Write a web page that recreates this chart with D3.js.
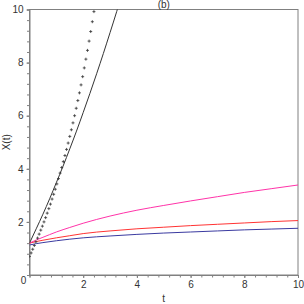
<!DOCTYPE html>
<html><head><meta charset="utf-8">
<script src="https://cdn.jsdelivr.net/npm/d3@7"></script>
<style>body{margin:0;background:#fff}svg{display:block}</style>
</head><body>
<script>
// ---- data ----
const title = "(b)";
const xLabel = "t";
const yLabel = "X(t)";
const xMajorTicks = [2, 4, 6, 8, 10];
const yMajorTicks = [2, 4, 6, 8, 10];
const minorStep = 0.4;

// point-plot series (crosses)
const dotT = [0,0.06,0.12,0.18,0.24,0.30,0.36,0.42,0.48,0.54,0.60,0.66,0.72,0.78,0.84,0.90,0.96,1.02,1.08,1.14,1.20,1.26,1.32,1.38,1.44,1.50,1.56,1.62,1.68,1.74,1.80,1.86,1.92,1.98,2.04,2.10,2.16,2.22,2.28,2.34,2.40];
const dotX = [0.70,0.83,0.97,1.11,1.25,1.39,1.54,1.69,1.84,2.00,2.16,2.33,2.50,2.67,2.86,3.04,3.23,3.43,3.63,3.84,4.05,4.27,4.50,4.73,4.97,5.22,5.47,5.73,6.00,6.28,6.57,6.86,7.16,7.47,7.80,8.13,8.46,8.81,9.17,9.54,9.92];

// black solid curve
const blackT = [0,0.25,0.5,0.75,1,1.25,1.5,1.75,2,2.25,2.5,2.75,3,3.25,3.5];
const blackX = [1.20,1.74,2.29,2.87,3.48,4.10,4.75,5.42,6.12,6.84,7.58,8.34,9.13,9.93,10.77];

// lower curves
const curveT = [0,0.25,0.5,1,1.5,2,3,4,5,6,7,8,9,10];
const magentaX = [1.20,1.32,1.42,1.62,1.79,1.95,2.22,2.44,2.62,2.79,2.95,3.11,3.25,3.39];
const redX     = [1.20,1.26,1.31,1.40,1.48,1.56,1.66,1.74,1.80,1.86,1.91,1.96,2.01,2.05];
const blueX    = [1.13,1.18,1.22,1.29,1.35,1.40,1.47,1.53,1.58,1.62,1.66,1.70,1.73,1.76];

// ---- drawing ----
const W = 304, H = 304;
const L = 29.5, R = 298, T = 9.5, B = 275;
const svg = d3.select("body").append("svg").attr("width", W).attr("height", H);
const x = d3.scaleLinear().domain([0, 10]).range([L, R]);
const y = d3.scaleLinear().domain([0, 10]).range([B, T]);
const axisColor = "#808080";
const textColor = "#333";
const font = "Liberation Sans, Arial, sans-serif";

svg.append("defs").append("clipPath").attr("id", "clip")
  .append("rect").attr("x", L).attr("y", T).attr("width", R - L).attr("height", B - T);

// frame
svg.append("rect").attr("x", L).attr("y", T).attr("width", R - L).attr("height", B - T)
  .attr("fill", "none").attr("stroke", axisColor).attr("stroke-width", 1);

const minor = d3.range(0, 10 + 1e-9, minorStep);
// x axis
const xAxis = svg.append("g").attr("transform", `translate(0,${B})`)
  .call(d3.axisBottom(x).tickValues(minor).tickSize(2.5).tickFormat(""));
xAxis.select(".domain").attr("stroke", axisColor);
xAxis.selectAll(".tick line").attr("stroke", axisColor);
const xAxisMaj = svg.append("g").attr("transform", `translate(0,${B})`)
  .call(d3.axisBottom(x).tickValues(xMajorTicks).tickSize(3).tickPadding(3).tickFormat(d3.format("d")));
xAxisMaj.select(".domain").remove();
xAxisMaj.selectAll(".tick line").attr("stroke", axisColor);
xAxisMaj.selectAll("text").attr("font-family", font).attr("font-size", 10).attr("fill", textColor);

// y axis
const yAxis = svg.append("g").attr("transform", `translate(${L},0)`)
  .call(d3.axisLeft(y).tickValues(minor).tickSize(2.5).tickFormat(""));
yAxis.select(".domain").attr("stroke", axisColor);
yAxis.selectAll(".tick line").attr("stroke", axisColor);
const yAxisMaj = svg.append("g").attr("transform", `translate(${L},0)`)
  .call(d3.axisLeft(y).tickValues(yMajorTicks).tickSize(3).tickPadding(3).tickFormat(d3.format("d")));
yAxisMaj.select(".domain").remove();
yAxisMaj.selectAll(".tick line").attr("stroke", axisColor);
yAxisMaj.selectAll("text").attr("font-family", font).attr("font-size", 10).attr("fill", textColor);

// corner zero
svg.append("text").attr("x", x(0) - 6).attr("y", y(0) + 9).attr("text-anchor", "middle")
  .attr("font-family", font).attr("font-size", 10).attr("fill", textColor).text("0");

// titles
svg.append("text").attr("x", (L + R) / 2).attr("y", 7.5).attr("text-anchor", "middle")
  .attr("font-family", font).attr("font-size", 10).attr("fill", textColor).text(title);
svg.append("text").attr("x", (L + R) / 2).attr("y", 302).attr("text-anchor", "middle")
  .attr("font-family", font).attr("font-size", 10).attr("fill", textColor).text(xLabel);
svg.append("text").attr("transform", `translate(9.5,${(T + B) / 2}) rotate(-90)`).attr("text-anchor", "middle")
  .attr("font-family", font).attr("font-size", 10).attr("fill", textColor).text(yLabel);

// curves
const g = svg.append("g").attr("clip-path", "url(#clip)");
const line = d3.line().x(d => x(d[0])).y(d => y(d[1])).curve(d3.curveMonotoneX);
const zip = (a, b) => a.map((v, i) => [v, b[i]]);
g.append("path").attr("d", line(zip(curveT, blueX))).attr("fill", "none").attr("stroke", "#3a3aa0").attr("stroke-width", 1);
g.append("path").attr("d", line(zip(curveT, redX))).attr("fill", "none").attr("stroke", "#ff3333").attr("stroke-width", 1);
g.append("path").attr("d", line(zip(curveT, magentaX))).attr("fill", "none").attr("stroke", "#ff33a8").attr("stroke-width", 1);
g.append("path").attr("d", line(zip(blackT, blackX))).attr("fill", "none").attr("stroke", "#333").attr("stroke-width", 1);

// crosses
const s = 1.5;
const cross = g.selectAll("g.cross").data(zip(dotT, dotX)).enter().append("g")
  .attr("transform", d => `translate(${x(d[0])},${y(d[1])})`);
cross.append("line").attr("x1", -s).attr("x2", s).attr("y1", 0).attr("y2", 0).attr("stroke", "#333").attr("stroke-width", 0.8);
cross.append("line").attr("y1", -s).attr("y2", s).attr("x1", 0).attr("x2", 0).attr("stroke", "#333").attr("stroke-width", 0.8);
</script>
</body></html>
